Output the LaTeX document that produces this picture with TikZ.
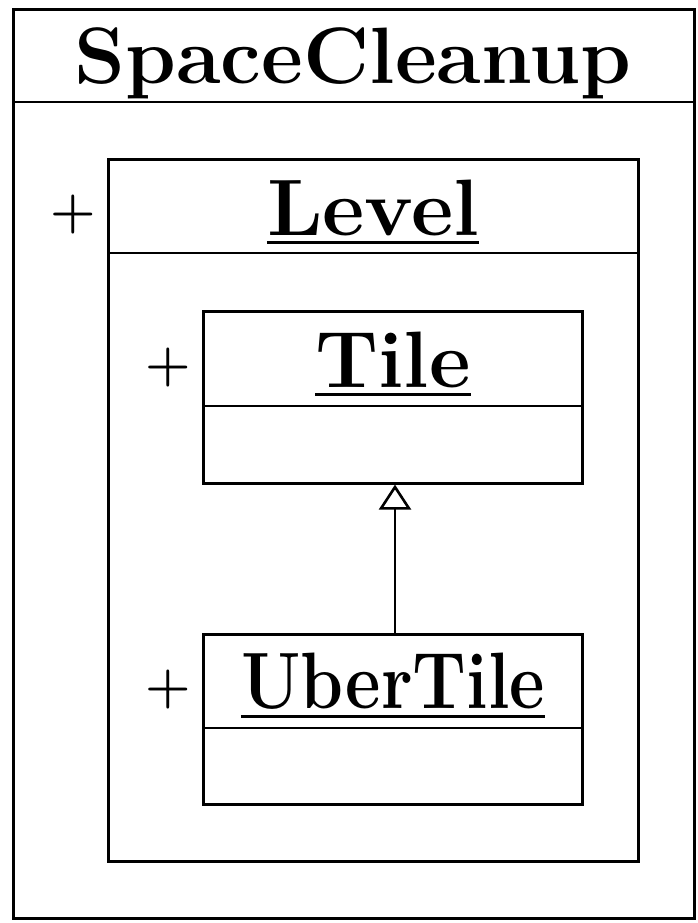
\documentclass[tikz,border=0pt]{standalone}
\usetikzlibrary{arrows.meta}
% set a name to a given width, keeping its height
\newcommand{\fitname}[2]{\resizebox{#1}{\height}{#2}}
\begin{document}
\begin{tikzpicture}[x=1pt,y=-1pt,
  umlbox/.style={draw,line width=2.6pt,rectangle,anchor=north west,inner sep=0pt},
  cname/.style={anchor=base,font=\fontsize{80}{86}\selectfont\bfseries,inner sep=0pt},
  vis/.style={font=\fontsize{52}{56}\selectfont\bfseries,inner sep=0pt},
  sep/.style={line width=2.6pt},
  uline/.style={line width=3pt},
  inherit/.style={line width=2.6pt,-{Triangle[open,width=32pt,length=25pt,line width=2.6pt]}}]
\useasboundingbox (0,0) rectangle (698,923);
\fill[white] (0,0) rectangle (698,923);
% package SpaceCleanup
\node[umlbox,minimum width=681pt,minimum height=909pt] (pkg) at (12,8) {};
\draw[sep] (pkg.west |- 0,102) -- (pkg.east |- 0,102);
\node[cname] (pkgname) at (353,84) {\fitname{557pt}{SpaceCleanup}};
% class Level
\node[umlbox,minimum width=530pt,minimum height=702pt] (level) at (107,158) {};
\draw[sep] (level.west |- 0,253) -- (level.east |- 0,253);
\node[cname] (levelname) at (373,235) {\fitname{212pt}{Level}};
\draw[uline] ([yshift=-7pt]levelname.base west) -- ([yshift=-7pt]levelname.base east);
\node[vis] (levelvis) at (73,215) {+};
% class Tile
\node[umlbox,minimum width=379pt,minimum height=172pt] (tile) at (202,310) {};
\draw[sep] (tile.west |- 0,406) -- (tile.east |- 0,406);
\node[cname] (tilename) at (393,387) {\fitname{155pt}{Tile}};
\draw[uline] ([yshift=-7pt]tilename.base west) -- ([yshift=-7pt]tilename.base east);
\node[vis] (tilevis) at (168,368) {+};
% class UberTile
\node[umlbox,minimum width=379pt,minimum height=170pt] (uber) at (202,633) {};
\draw[sep] (uber.west |- 0,728) -- (uber.east |- 0,728);
\node[cname] (ubername) at (393,708) {\fitname{304pt}{UberTile}};
\draw[uline] ([yshift=-8pt]ubername.base west) -- ([yshift=-8pt]ubername.base east);
\node[vis] (ubervis) at (168,690) {+};
% generalization UberTile -> Tile
\draw[inherit] (uber.north -| 395,0) -- (tile.south -| 395,0);
\end{tikzpicture}
\end{document}
